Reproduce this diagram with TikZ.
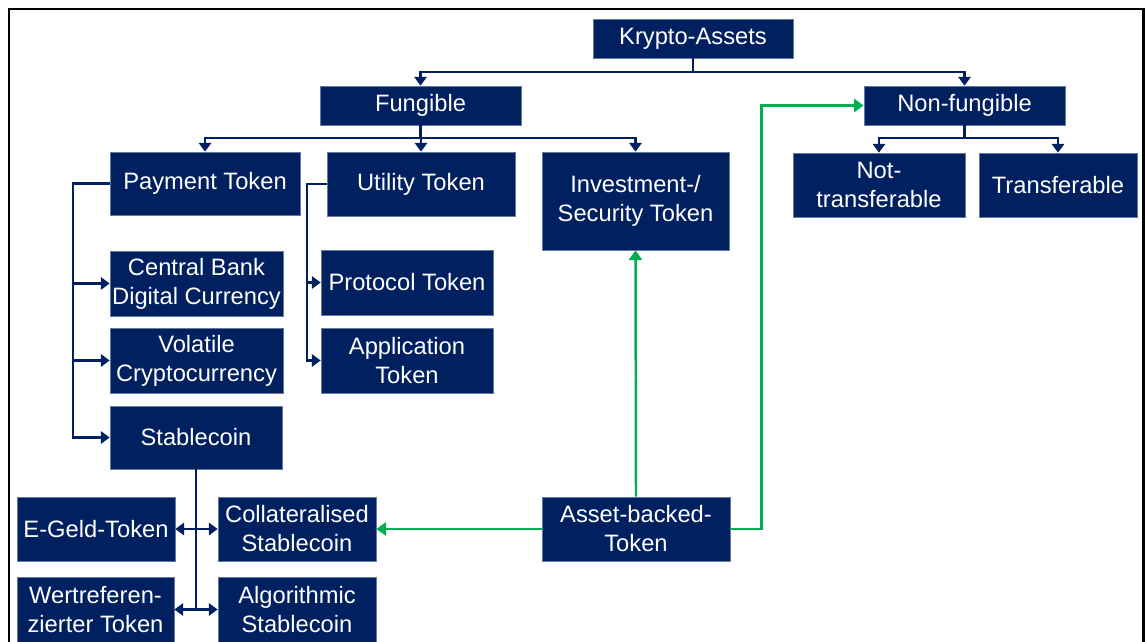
\documentclass[tikz,border=0pt]{standalone}
\usepackage{fontspec}
\setmainfont{Liberation Sans}
\usetikzlibrary{arrows.meta}
\definecolor{navy}{HTML}{002060}
\definecolor{kgreen}{HTML}{00B050}
\tikzset{
  box/.style={fill=navy, draw=navy!60, line width=0.4pt, text=white, align=center,
    inner sep=0pt, font=\fontsize{13.5}{16.5}\selectfont},
  sz/.style 2 args={minimum width=#1cm, minimum height=#2cm},
  link/.style={draw=navy, line width=1.2pt, -{Triangle[width=7pt,length=5pt]}},
  glink/.style={draw=kgreen, line width=1.4pt, -{Triangle[width=7.5pt,length=5.5pt]}},
}
\begin{document}
\begin{tikzpicture}[x=0.02cm,y=-0.02cm]
  \useasboundingbox (0,0) rectangle (1146,642);
  \clip (0,0) rectangle (1146,642);
  % frame
  \draw[line width=1.7pt] (9,680) -- (9,9) -- (1143,9) -- (1143,680);

  % boxes
  \node[box, sz={4.0}{0.78}]  (ka)    at (693,38.5)   {Krypto-Assets};
  \node[box, sz={4.02}{0.78}] (fung)  at (420.5,105.5) {Fungible};
  \node[box, sz={4.02}{0.78}] (nonf)  at (964.5,105.5) {Non-fungible};
  \node[box, sz={3.8}{1.26}]  (pay)   at (205,183.5)  {Payment Token};
  \node[box, sz={3.76}{1.28}] (util)  at (421,184)    {Utility Token};
  \node[box, sz={3.74}{1.96}] (inv)   at (635.5,201)  {Investment-/\\Security Token};
  \node[box, sz={3.44}{1.28}] (nott)  at (879,185)    {Not-\\transferable};
  \node[box, sz={3.16}{1.28}] (trans) at (1058,185)   {Transferable};
  \node[box, sz={3.46}{1.3}]  (cbdc)  at (196.5,283.5) {Central Bank\\Digital Currency};
  \node[box, sz={3.44}{1.3}]  (prot)  at (407,282.5)  {Protocol Token};
  \node[box, sz={3.46}{1.3}]  (vol)   at (196.5,360.5) {Volatile\\Cryptocurrency};
  \node[box, sz={3.44}{1.3}]  (appl)  at (407,360.5)  {Application\\Token};
  \node[box, sz={3.44}{1.26}] (stab)  at (196,437.5)  {Stablecoin};
  \node[box, sz={3.16}{1.28}] (egeld) at (96,529)     {E-Geld-Token};
  \node[box, sz={3.16}{1.28}] (coll)  at (297,529)    {Collateralised\\Stablecoin};
  \node[box, sz={3.14}{1.3}]  (wert)  at (95.5,609.5) {Wertreferen-\\zierter Token};
  \node[box, sz={3.16}{1.3}]  (algo)  at (297,609.5)  {Algorithmic\\Stablecoin};
  \node[box, sz={3.76}{1.28}] (abt)   at (636,529)    {Asset-backed-\\Token};

  % tree
  \draw[link] (ka.south) -- ++(0,14) -| (fung.north);
  \draw[link] (ka.south) -- ++(0,14) -| (nonf.north);
  \draw[link] (fung.south) -- ++(0,13) -| (pay.north);
  \draw[link] (fung.south) -- ++(0,13) -| (util.north);
  \draw[link] (fung.south) -- ++(0,13) -| (inv.north);
  \draw[link] (nonf.south) -- ++(0,13) -| (nott.north);
  \draw[link] (nonf.south) -- ++(0,13) -| (trans.north);

  % sub types
  \draw[link] (pay.west) -- ++(-37,0) |- (cbdc.west);
  \draw[link] (pay.west) -- ++(-37,0) |- (vol.west);
  \draw[link] (pay.west) -- ++(-37,0) |- (stab.west);
  \draw[link] (util.west) -- ++(-20,0) |- (prot.west);
  \draw[link] (util.west) -- ++(-20,0) |- (appl.west);

  % stablecoin
  \coordinate (s1) at (stab.south |- egeld.east);
  \coordinate (s2) at (stab.south |- wert.east);
  \draw[draw=navy, line width=1.2pt] (stab.south) -- (s2);
  \draw[link] (s1) -- (egeld.east);
  \draw[link] (s1) -- (coll.west);
  \draw[link] (s2) -- (wert.east);
  \draw[link] (s2) -- (algo.west);

  % asset-backed
  \draw[glink] (abt.west) -- (coll.east);
  \draw[glink] (abt.north) -- (inv.south);
  \draw[glink] (abt.east) -- ++(31,0) |- (nonf.west);
\end{tikzpicture}
\end{document}
